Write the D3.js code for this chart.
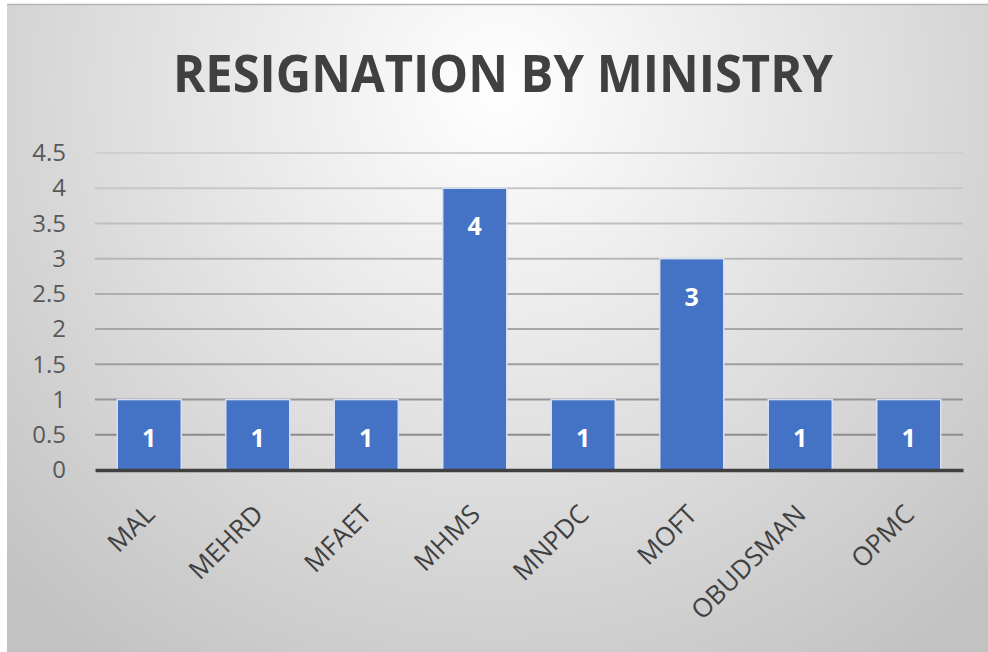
<!DOCTYPE html>
<html>
<head>
<meta charset="utf-8">
<script src="https://cdn.jsdelivr.net/npm/d3@7"></script>
<style>
  html, body { margin: 0; padding: 0; background: #ffffff; }
  svg { display: block; }
</style>
</head>
<body>
<svg id="chart" width="988" height="652"></svg>
<script>
// Resignations per ministry
const categories = ["MAL", "MEHRD", "MFAET", "MHMS", "MNPDC", "MOFT", "OBUDSMAN", "OPMC"];
const resignations = [1, 1, 1, 4, 1, 3, 1, 1];
const yTicks = [0, 0.5, 1, 1.5, 2, 2.5, 3, 3.5, 4, 4.5];
const chartTitle = "RESIGNATION BY MINISTRY";

const W = 988, H = 652;
const margin = { left: 95, right: 25, top: 153, bottom: 182 };
const svg = d3.select("#chart");

// Panel background with a soft radial shading
const defs = svg.append("defs");
const rg = defs.append("radialGradient")
  .attr("id", "bgGrad")
  .attr("gradientUnits", "userSpaceOnUse")
  .attr("cx", 500).attr("cy", 90).attr("r", 700);
rg.append("stop").attr("offset", 0).attr("stop-color", "#ffffff");
rg.append("stop").attr("offset", 0.45).attr("stop-color", "#e4e4e4");
rg.append("stop").attr("offset", 1).attr("stop-color", "#c2c2c2");

svg.append("rect")
  .attr("x", 7).attr("y", 4).attr("width", W - 7).attr("height", H - 4)
  .attr("fill", "url(#bgGrad)");
svg.append("line")
  .attr("x1", 7).attr("x2", W).attr("y1", 4.5).attr("y2", 4.5)
  .attr("stroke", "#b4b4b4").attr("stroke-width", 1.5);

// Title
svg.append("text")
  .attr("x", 503).attr("y", 92)
  .attr("text-anchor", "middle")
  .attr("font-family", "Open Sans, sans-serif")
  .attr("font-weight", 700)
  .attr("font-size", 52)
  .attr("fill", "#404040")
  .attr("textLength", 660)
  .attr("lengthAdjust", "spacingAndGlyphs")
  .text(chartTitle);

const x = d3.scaleBand()
  .domain(categories)
  .range([margin.left, W - margin.right])
  .paddingInner(0.41)
  .paddingOuter(0.205);

const y = d3.scaleLinear()
  .domain([0, 4.5])
  .range([H - margin.bottom, margin.top]);

// Horizontal gridlines, darker toward the baseline
const gridColor = d3.scaleLinear().domain([0, 4.5]).range(["#858585", "#cfcfcf"]);
svg.append("g")
  .selectAll("line")
  .data(yTicks.filter(t => t > 0))
  .join("line")
  .attr("x1", margin.left).attr("x2", W - margin.right)
  .attr("y1", d => y(d)).attr("y2", d => y(d))
  .attr("stroke", d => gridColor(d))
  .attr("stroke-width", 2);

// Y axis labels
const yAxis = d3.axisLeft(y).tickValues(yTicks).tickSize(0).tickPadding(29)
  .tickFormat(d3.format("~g"));
const yg = svg.append("g").attr("transform", `translate(${margin.left},0)`).call(yAxis);
yg.select(".domain").remove();
yg.selectAll("text")
  .attr("font-family", "Open Sans, sans-serif")
  .attr("font-size", 24)
  .attr("fill", "#595959");

// Bars
const data = categories.map((c, i) => ({ cat: c, val: resignations[i] }));
svg.append("g")
  .selectAll("rect")
  .data(data)
  .join("rect")
  .attr("x", d => x(d.cat))
  .attr("y", d => y(d.val))
  .attr("width", x.bandwidth())
  .attr("height", d => y(0) - y(d.val))
  .attr("fill", "#4472c4")
  .attr("stroke", "#d6e0f2")
  .attr("stroke-width", 1.5);

// Value labels inside the bar tops
svg.append("g")
  .selectAll("text")
  .data(data)
  .join("text")
  .attr("x", d => x(d.cat) + x.bandwidth() / 2)
  .attr("y", d => y(d.val) + 47)
  .attr("text-anchor", "middle")
  .attr("font-family", "Open Sans, sans-serif")
  .attr("font-weight", 700)
  .attr("font-size", 25)
  .attr("fill", "#ffffff")
  .text(d => d.val);

// X axis baseline and rotated category labels
const xAxis = d3.axisBottom(x).tickSize(0).tickPadding(0);
const xg = svg.append("g").attr("transform", `translate(0,${y(0)})`).call(xAxis);
xg.select(".domain")
  .attr("stroke", "#404040")
  .attr("stroke-width", 3.5);
xg.selectAll("text")
  .attr("font-family", "Open Sans, sans-serif")
  .attr("font-size", 26)
  .attr("fill", "#404040")
  .attr("text-anchor", "end")
  .attr("y", 0)
  .attr("dy", 0)
  .attr("transform", "translate(7,46) rotate(-45)");
</script>
</body>
</html>
